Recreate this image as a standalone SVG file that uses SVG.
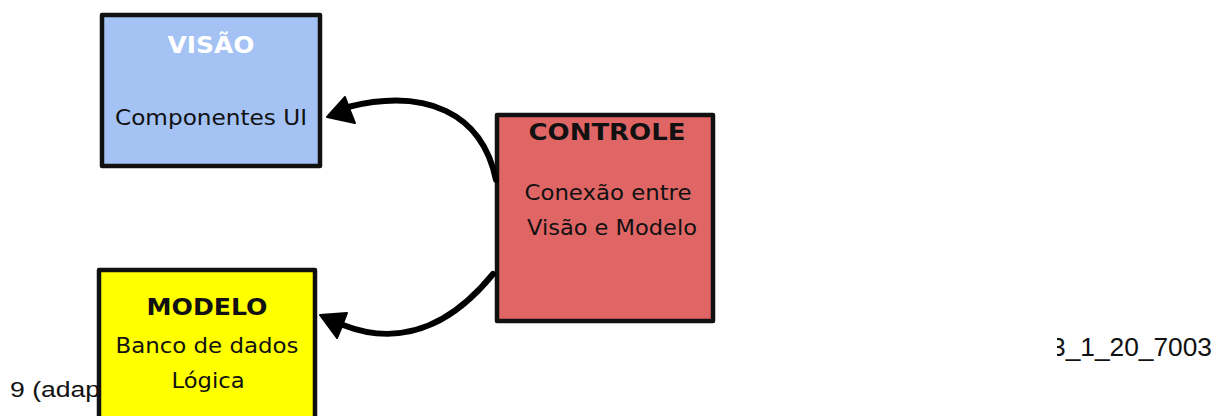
<svg xmlns="http://www.w3.org/2000/svg" width="1227" height="416" viewBox="0 0 1227 416">
  <style>
    .box { stroke: #111; stroke-width: 4.5; stroke-linejoin: round; }
    .title { font-family: "DejaVu Sans", "Noto Sans", sans-serif; font-weight: bold; font-size: 23px; text-anchor: middle; fill: #111; }
    .body { font-family: "DejaVu Sans", "Noto Sans", sans-serif; font-size: 21px; text-anchor: middle; fill: #111; }
    .cap { font-family: "Liberation Sans", Arial, sans-serif; font-size: 22px; fill: #111; }
    .conn { fill: none; stroke: #000; stroke-width: 6; stroke-linecap: round; }
    .head { fill: #000; stroke: #000; stroke-width: 2; stroke-linejoin: round; }
  </style>
  <defs>
    <clipPath id="clipRight"><rect x="1057" y="300" width="170" height="100"/></clipPath>
  </defs>
  <rect width="1227" height="416" fill="#ffffff"/>

  <g id="captions">
    <text class="cap" x="10" y="397" textLength="90" lengthAdjust="spacingAndGlyphs">9 (adap</text>
    <text class="cap" x="1051" y="356" font-size="25" style="font-size:25px" textLength="161" lengthAdjust="spacingAndGlyphs" clip-path="url(#clipRight)">3_1_20_7003</text>
  </g>

  <g id="visao">
    <rect class="box" x="102" y="15" width="218" height="151" fill="#a4c2f4"/>
    <text class="title" x="211" y="53" style="fill:#ffffff" textLength="87" lengthAdjust="spacingAndGlyphs">VISÃO</text>
    <text class="body" x="211" y="125" textLength="192" lengthAdjust="spacingAndGlyphs">Componentes UI</text>
  </g>

  <g id="controle">
    <rect class="box" x="497" y="115" width="216" height="206" fill="#e06666"/>
    <text class="title" x="607" y="140" textLength="157" lengthAdjust="spacingAndGlyphs">CONTROLE</text>
    <text class="body" x="608" y="200" textLength="167" lengthAdjust="spacingAndGlyphs">Conexão entre</text>
    <text class="body" x="612" y="235" textLength="170" lengthAdjust="spacingAndGlyphs">Visão e Modelo</text>
  </g>

  <g id="modelo">
    <rect class="box" x="99" y="270" width="216" height="160" fill="#ffff00"/>
    <text class="title" x="207" y="315" textLength="121" lengthAdjust="spacingAndGlyphs">MODELO</text>
    <text class="body" x="207" y="353" textLength="183" lengthAdjust="spacingAndGlyphs">Banco de dados</text>
    <text class="body" x="208" y="388" textLength="73" lengthAdjust="spacingAndGlyphs">Lógica</text>
  </g>

  <g id="connectors">
    <path class="conn" d="M 496 180 C 482 112, 425 88, 348 107"/>
    <path class="head" d="M 327 117 L 345 97 L 349 108 L 355 123 Z"/>
    <path class="conn" d="M 493 274 C 462 312, 412 352, 343 325"/>
    <path class="head" d="M 320 315 L 347 313 L 342 326 L 337 338 Z"/>
  </g>
</svg>
